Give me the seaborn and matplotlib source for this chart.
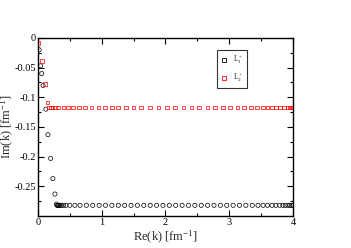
import numpy as np
import pandas as pd
import matplotlib
matplotlib.use("Agg")
import matplotlib.pyplot as plt
import seaborn as sns
from matplotlib.lines import Line2D
from matplotlib.ticker import MultipleLocator, FuncFormatter

# L1+ (black circles)
re_L1 = [0.02, 0.04, 0.06, 0.08, 0.125, 0.157, 0.20, 0.235, 0.267, 0.29,
         0.30, 0.31, 0.32, 0.33, 0.35, 0.37, 0.40, 0.44, 0.50, 0.58, 0.66,
         0.76, 0.86, 0.96, 1.06, 1.16, 1.26, 1.36, 1.46, 1.56, 1.66, 1.76,
         1.86, 1.96, 2.06, 2.16, 2.26, 2.36, 2.46, 2.56, 2.66, 2.76, 2.86,
         2.96, 3.06, 3.16, 3.26, 3.36, 3.45, 3.53, 3.60, 3.67, 3.73, 3.79,
         3.84, 3.88, 3.92, 3.95, 3.98, 4.00]
im_L1 = [-0.02, -0.047, -0.06, -0.08, -0.12, -0.163, -0.203, -0.237, -0.263, -0.28,
         -0.282, -0.282, -0.282, -0.282, -0.282, -0.282, -0.282, -0.282, -0.282, -0.282, -0.282,
         -0.282, -0.282, -0.282, -0.282, -0.282, -0.282, -0.282, -0.282, -0.282, -0.282, -0.282,
         -0.282, -0.282, -0.282, -0.282, -0.282, -0.282, -0.282, -0.282, -0.282, -0.282, -0.282,
         -0.282, -0.282, -0.282, -0.282, -0.282, -0.282, -0.282, -0.282, -0.282, -0.282, -0.282,
         -0.282, -0.282, -0.282, -0.282, -0.282, -0.282]

# L2+ (red squares)
re_L2 = [0.01, 0.06, 0.11, 0.15, 0.17, 0.20, 0.23, 0.27, 0.32, 0.40, 0.47,
         0.55, 0.64, 0.74, 0.84, 0.95, 1.05, 1.16, 1.26, 1.38, 1.50, 1.62,
         1.76, 1.89, 2.02, 2.15, 2.28, 2.41, 2.53, 2.66, 2.78, 2.90, 3.01,
         3.13, 3.23, 3.34, 3.43, 3.53, 3.60, 3.67, 3.73, 3.80, 3.86, 3.91,
         3.95, 3.98, 4.00]
im_L2 = [-0.008, -0.039, -0.078, -0.109, -0.117, -0.117, -0.117, -0.117, -0.117, -0.117, -0.117,
         -0.117, -0.117, -0.117, -0.117, -0.117, -0.117, -0.117, -0.117, -0.117, -0.117, -0.117,
         -0.117, -0.117, -0.117, -0.117, -0.117, -0.117, -0.117, -0.117, -0.117, -0.117, -0.117,
         -0.117, -0.117, -0.117, -0.117, -0.117, -0.117, -0.117, -0.117, -0.117, -0.117, -0.117,
         -0.117, -0.117, -0.117]

labels = [r"L$_1^+$", r"L$_2^+$"]
y_ticks = [0, -0.05, -0.1, -0.15, -0.2, -0.25]
x_ticks = [0, 1, 2, 3, 4]

sns.set_theme(style="ticks")
plt.rcParams["font.family"] = ["Liberation Serif", "DejaVu Serif"]
plt.rcParams["mathtext.fontset"] = "custom"
plt.rcParams["mathtext.rm"] = "Liberation Serif"
plt.rcParams["mathtext.it"] = "Liberation Serif"
plt.rcParams["axes.unicode_minus"] = False

fig = plt.figure(figsize=(3.51, 2.48), dpi=100)
ax = fig.add_axes([0.108, 0.129, 0.727, 0.718])

d1 = pd.DataFrame({"x": re_L1, "y": im_L1})
d2 = pd.DataFrame({"x": re_L2, "y": im_L2})
sns.scatterplot(data=d1, x="x", y="y", ax=ax, marker="o", s=9,
                facecolors="none", edgecolor="black", linewidth=0.5, zorder=3)
sns.scatterplot(data=d2, x="x", y="y", ax=ax, marker="s", s=7,
                facecolors="none", edgecolor="red", linewidth=0.5, zorder=3)

ax.set_xlim(0, 4)
ax.set_ylim(-0.3, 0)
ax.set_xticks(x_ticks)
ax.set_yticks(y_ticks)
ax.xaxis.set_minor_locator(MultipleLocator(0.5))
ax.yaxis.set_minor_locator(MultipleLocator(0.025))
ax.yaxis.set_major_formatter(FuncFormatter(lambda v, p: "0" if abs(v) < 1e-9 else ("%g" % v)))
ax.tick_params(which="both", direction="in", top=True, right=True, labelsize=7.5,
               width=0.8, colors="black", pad=1.5)
ax.tick_params(which="major", length=4)
ax.tick_params(which="minor", length=2)
for s in ax.spines.values():
    s.set_linewidth(1.0)
    s.set_color("black")

ax.set_xlabel(r"Re(k) [fm$^{-1}$]", fontsize=9, labelpad=1)
ax.set_ylabel(r"Im(k) [fm$^{-1}$]", fontsize=9)
ax.yaxis.set_label_coords(-0.086, 0.5)

handles = [Line2D([], [], linestyle="none", marker="s", markersize=2.2,
                  markerfacecolor="none", markeredgecolor="black", markeredgewidth=0.6),
           Line2D([], [], linestyle="none", marker="s", markersize=2.2,
                  markerfacecolor="none", markeredgecolor="red", markeredgewidth=0.6)]
leg = ax.legend(handles, labels, loc="upper left", bbox_to_anchor=(0.702, 0.933),
                fontsize=5.5, frameon=True, fancybox=False, edgecolor="black",
                borderpad=0.5, handlelength=0.8, handletextpad=0.8, labelspacing=0.7,
                borderaxespad=0)
leg.get_frame().set_linewidth(0.8)

fig.savefig("out.png", dpi=100)
